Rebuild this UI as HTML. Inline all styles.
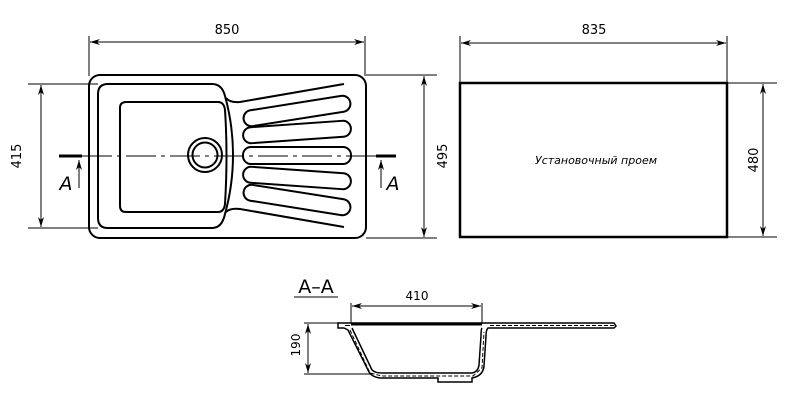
<!DOCTYPE html>
<html><head><meta charset="utf-8"><style>
html,body{margin:0;padding:0;background:#fff;}
svg{display:block;}
text{font-family:"DejaVu Sans","Liberation Sans",sans-serif;fill:#000;}
</style></head><body>
<svg width="799" height="406" viewBox="0 0 799 406" xmlns="http://www.w3.org/2000/svg">
<defs>
<marker id="ar" viewBox="0 0 10 6" refX="10" refY="3" markerWidth="10" markerHeight="6" orient="auto-start-reverse" markerUnits="userSpaceOnUse">
<path d="M0,0 L10,3 L0,6 L3,3 z" fill="#000"/>
</marker>
</defs>
<g fill="none" stroke="#000">
<line x1="89" y1="36" x2="89" y2="76" stroke-width="1"/>
<line x1="365" y1="36" x2="365" y2="76" stroke-width="1"/>
<line x1="90" y1="42" x2="364" y2="42" stroke-width="1" marker-start="url(#ar)" marker-end="url(#ar)"/>
<line x1="28" y1="84" x2="98" y2="84" stroke-width="1"/>
<line x1="28" y1="228" x2="98" y2="228" stroke-width="1"/>
<line x1="41" y1="85" x2="41" y2="227" stroke-width="1" marker-start="url(#ar)" marker-end="url(#ar)"/>
<line x1="366" y1="75" x2="437" y2="75" stroke-width="1"/>
<line x1="366" y1="238" x2="437" y2="238" stroke-width="1"/>
<line x1="424" y1="76" x2="424" y2="237" stroke-width="1" marker-start="url(#ar)" marker-end="url(#ar)"/>
<rect x="89" y="75" width="277" height="163" rx="11" stroke-width="2"/>
<path d="M108,84 L212,84 Q222,84 225,96 Q233,125 233,155 Q233,185 225,214 Q222,228 212,228 L108,228 Q98,228 98,218 L98,94 Q98,84 108,84 Z" stroke-width="2"/>
<path d="M226,98 Q230,103 240,102 L344,84" stroke-width="2"/>
<path d="M226,212 Q230,208 240,209 L344,227" stroke-width="2"/>
<path d="M126,102 L218,102 Q224,102 225,110 Q228,155 225,204 Q224,212 218,212 L126,212 Q120,212 120,206 L120,108 Q120,102 126,102 Z" stroke-width="2"/>
<circle cx="205" cy="155" r="17" stroke-width="2"/>
<circle cx="205" cy="155" r="12.5" stroke-width="2"/>
<g stroke-width="2">
<rect x="243" y="103" width="108" height="16" rx="8" transform="rotate(-9 297 111)"/>
<rect x="243" y="124" width="108" height="16" rx="8" transform="rotate(-4 297 132)"/>
<rect x="243" y="147" width="108" height="17" rx="8"/>
<rect x="243" y="170" width="108" height="16" rx="8" transform="rotate(4 297 178)"/>
<rect x="243" y="192" width="108" height="16" rx="8" transform="rotate(9 297 200)"/>
</g>
<line x1="82" y1="156" x2="377" y2="156" stroke-width="1" stroke-dasharray="30,5,4,5"/>
<line x1="59" y1="156" x2="82" y2="156" stroke-width="3"/>
<line x1="376" y1="156" x2="396" y2="156" stroke-width="3"/>
<line x1="79" y1="188" x2="79" y2="160" stroke-width="1" marker-end="url(#ar)"/>
<line x1="381" y1="188" x2="381" y2="160" stroke-width="1" marker-end="url(#ar)"/>
<rect x="460" y="83" width="267" height="154" stroke-width="2.5"/>
<line x1="460" y1="36" x2="460" y2="83" stroke-width="1"/>
<line x1="727" y1="36" x2="727" y2="83" stroke-width="1"/>
<line x1="461" y1="43" x2="726" y2="43" stroke-width="1" marker-start="url(#ar)" marker-end="url(#ar)"/>
<line x1="727" y1="83" x2="777" y2="83" stroke-width="1"/>
<line x1="727" y1="237" x2="777" y2="237" stroke-width="1"/>
<line x1="763" y1="84" x2="763" y2="236" stroke-width="1" marker-start="url(#ar)" marker-end="url(#ar)"/>
<line x1="294" y1="297" x2="338" y2="297" stroke-width="1"/>
<line x1="351" y1="303" x2="351" y2="323" stroke-width="1"/>
<line x1="482" y1="303" x2="482" y2="323" stroke-width="1"/>
<line x1="352" y1="306" x2="481" y2="306" stroke-width="1" marker-start="url(#ar)" marker-end="url(#ar)"/>
<line x1="304" y1="323" x2="338" y2="323" stroke-width="1"/>
<line x1="304" y1="374" x2="370" y2="374" stroke-width="1"/>
<line x1="308" y1="324" x2="308" y2="373" stroke-width="1" marker-start="url(#ar)" marker-end="url(#ar)"/>
<path d="M338,323 L614,323 L616,326 L614,328 L488,328 Q486,330 486,336 L484,366 Q483,376 472,378 L472,382 L438,382 L438,378 L380,378 Q372,377 369,372 L348,330 L344,328 L338,328 Z" stroke-width="1.5"/>
<path d="M352,328 L372,370 Q375,373 382,373 L472,373 Q478,372 479,365 L481,336 Q481,329 482,328" stroke-width="1.5"/>
<line x1="351" y1="324.5" x2="482" y2="324.5" stroke-width="2"/>
<g stroke-width="1">
<line x1="490" y1="325.5" x2="614" y2="325.5" stroke-dasharray="4,2"/>
<line x1="345" y1="325.5" x2="350" y2="325.5"/>
<path d="M350,330 L370,373 L382,376 L473,376 L482,368 L484,332" stroke-dasharray="4,2"/>
</g>
</g>
<g font-size="13">
<text x="227" y="34" text-anchor="middle">850</text>
<text x="594" y="34" text-anchor="middle">835</text>
<text x="417" y="300" text-anchor="middle" font-size="12">410</text>
<text transform="translate(21,156) rotate(-90)" text-anchor="middle">415</text>
<text transform="translate(447,156) rotate(-90)" text-anchor="middle">495</text>
<text transform="translate(758,160) rotate(-90)" text-anchor="middle">480</text>
<text transform="translate(300,345) rotate(-90)" text-anchor="middle" font-size="12">190</text>
</g>
<text x="66" y="190" font-size="19" font-style="italic" text-anchor="middle">A</text>
<text x="393" y="190" font-size="19" font-style="italic" text-anchor="middle">A</text>
<text x="316" y="293" font-size="19" text-anchor="middle">A–A</text>
<text x="596" y="164" font-size="11" font-style="italic" text-anchor="middle">Установочный проем</text>
</svg>
</body></html>
